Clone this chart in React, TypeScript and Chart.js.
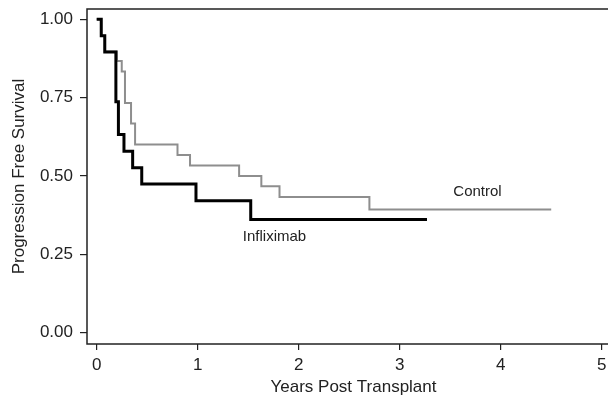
import { useEffect, useRef } from "react";
import { Chart, registerables } from "chart.js";
Chart.register(...registerables);

const infliximabTimes = [0, 0.045, 0.08, 0.19, 0.215, 0.27, 0.356, 0.446, 0.983, 1.525, 3.27];
const infliximabSurvival = [1, 0.947, 0.895, 0.737, 0.632, 0.579, 0.526, 0.474, 0.421, 0.361, 0.361];
const controlTimes = [0, 0.045, 0.08, 0.2, 0.248, 0.28, 0.34, 0.38, 0.8, 0.924, 1.41, 1.63, 1.81, 2.7, 4.5];
const controlSurvival = [1, 0.947, 0.897, 0.867, 0.833, 0.733, 0.667, 0.6, 0.567, 0.533, 0.5, 0.467, 0.433, 0.393, 0.393];
const xTicks = [0, 1, 2, 3, 4, 5];
const yTicks = [0, 0.25, 0.5, 0.75, 1];
const seriesLabels = ["Infliximab", "Control"];
const labelX = [1.76, 3.77];
const labelY = [0.306, 0.45];

const FONT = "'Liberation Sans', Arial, Helvetica, sans-serif";
const TEXT = "#222";

const framePlugin = {
  id: "frameAndLabels",
  afterDraw(chart: any) {
    const { ctx, chartArea: a, scales } = chart;
    ctx.save();
    ctx.strokeStyle = "#222";
    ctx.lineWidth = 1.5;
    ctx.strokeRect(a.left, a.top, a.right - a.left, a.bottom - a.top);
    ctx.font = `15px ${FONT}`;
    ctx.fillStyle = TEXT;
    ctx.textAlign = "center";
    ctx.textBaseline = "middle";
    seriesLabels.forEach((t, i) => {
      ctx.fillText(t, scales.x.getPixelForValue(labelX[i]), scales.y.getPixelForValue(labelY[i]));
    });
    ctx.restore();
  },
};

export default function App() {
  const ref = useRef<HTMLCanvasElement | null>(null);
  useEffect(() => {
    if (!ref.current) return;
    const chart = new Chart(ref.current, {
      type: "line",
      data: {
        datasets: [
          {
            label: seriesLabels[0],
            data: infliximabTimes.map((x, i) => ({ x, y: infliximabSurvival[i] })),
            borderColor: "#000",
            borderWidth: 3,
            stepped: "before",
            pointRadius: 0,
            fill: false,
            order: 0,
          },
          {
            label: seriesLabels[1],
            data: controlTimes.map((x, i) => ({ x, y: controlSurvival[i] })),
            borderColor: "#8e8e8e",
            borderWidth: 2,
            stepped: "before",
            pointRadius: 0,
            fill: false,
            order: 1,
          },
        ],
      },
      options: {
        animation: false,
        responsive: false,
        devicePixelRatio: 1,
        layout: { padding: { left: 0, top: 9, right: 20, bottom: 0 } },
        plugins: { legend: { display: false }, tooltip: { enabled: false } },
        scales: {
          x: {
            type: "linear",
            min: -0.096,
            max: 5.181,
            afterBuildTicks: (s: any) => {
              s.ticks = xTicks.map((v) => ({ value: v }));
            },
            afterFit: (s: any) => {
              s.height = 63;
              s.paddingLeft = 0;
              s.paddingRight = 0;
            },
            border: { display: false },
            grid: { drawOnChartArea: false, drawTicks: true, tickLength: 6, color: "#222", lineWidth: 1.2 },
            ticks: {
              color: TEXT,
              font: { family: FONT, size: 17 },
              padding: 5,
              maxRotation: 0,
              callback: (v: any) => String(v),
            },
            title: {
              display: true,
              text: "Years Post Transplant",
              color: TEXT,
              font: { family: FONT, size: 17 },
              padding: { top: 0, bottom: 9 },
            },
          },
          y: {
            type: "linear",
            min: -0.036,
            max: 1.0325,
            afterBuildTicks: (s: any) => {
              s.ticks = yTicks.map((v) => ({ value: v }));
            },
            afterFit: (s: any) => {
              s.width = 87;
              s.paddingTop = 0;
              s.paddingBottom = 0;
            },
            border: { display: false },
            grid: { drawOnChartArea: false, drawTicks: true, tickLength: 7, color: "#222", lineWidth: 1.2 },
            ticks: {
              color: TEXT,
              font: { family: FONT, size: 17 },
              padding: 7,
              callback: (v: any) => Number(v).toFixed(2),
            },
            title: {
              display: true,
              text: "Progression Free Survival",
              color: TEXT,
              font: { family: FONT, size: 17 },
              padding: { top: 9, bottom: 0 },
            },
          },
        },
      },
      plugins: [framePlugin],
    });
    return () => chart.destroy();
  }, []);
  return (
    <div style={{ position: "fixed", left: 0, top: 0, width: 608, height: 407, overflow: "hidden", background: "#fff" }}>
      <canvas ref={ref} width={640} height={407} style={{ display: "block" }} />
    </div>
  );
}
